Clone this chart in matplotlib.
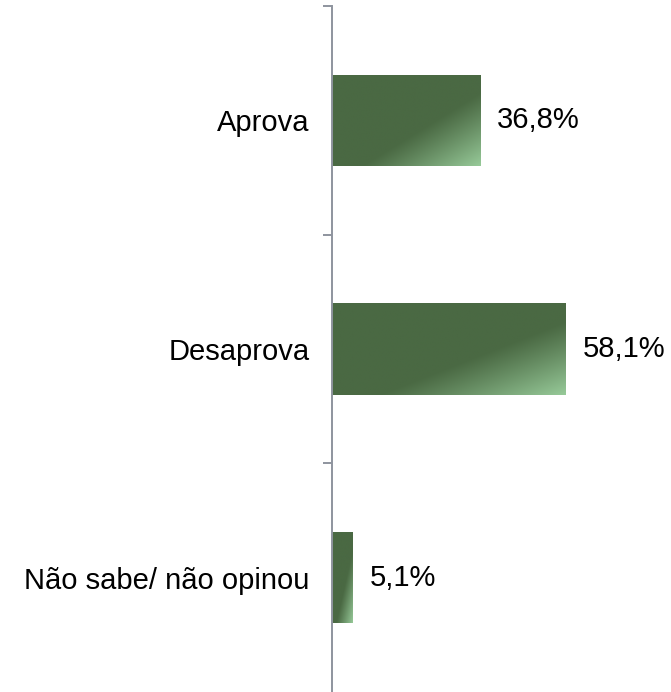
import numpy as np
import matplotlib
matplotlib.use('Agg')
import matplotlib.pyplot as plt
from matplotlib.colors import to_rgb

categories = ['Aprova', 'Desaprova', 'Não sabe/ não opinou']
values = [36.8, 58.1, 5.1]
value_labels = ['36,8%', '58,1%', '5,1%']

plt.rcParams['font.family'] = ['Liberation Sans', 'DejaVu Sans']

fig = plt.figure(figsize=(6.71, 6.92), dpi=100)
ax = fig.add_axes([332 / 671, 0.0, 322 / 671, 686 / 692])

ypos = np.arange(len(categories))
bar_h = 0.40
bars = ax.barh(ypos, values, height=bar_h, color='none', edgecolor='none')

# diagonal gradient: dark green with a lighter bottom-right corner
dark = np.array(to_rgb('#4a6943'))
light = np.array(to_rgb('#97ca99'))
n = 200
u, v = np.meshgrid(np.linspace(0, 1, n), np.linspace(0, 1, n))
t = (u + v) / 2
f = np.clip((t - 0.6) / 0.4, 0, 1) ** 1.1
grad = dark * (1 - f)[..., None] + light * f[..., None]

for bar, y, val, lab in zip(bars, ypos, values, value_labels):
    im = ax.imshow(grad, extent=(0, val, y + bar_h / 2, y - bar_h / 2),
                   origin='upper', aspect='auto', zorder=2, interpolation='bilinear')
    im.set_clip_path(bar)
    ax.text(val + 4.2, y, lab, va='center', ha='left', fontsize=21, color='#000000')

ax.set_xlim(0, 80)
ax.set_ylim(len(categories) - 0.5, -0.5)

for s in ['top', 'right', 'bottom']:
    ax.spines[s].set_visible(False)
ax.spines['left'].set_color('#8e949e')
ax.spines['left'].set_linewidth(1.4)

ax.set_xticks([])
ax.set_yticks(np.arange(-0.5, len(categories) - 1), labels=[])
ax.tick_params(axis='y', which='major', length=6.5, width=1.4, color='#8e949e')
ax.set_yticks(ypos, labels=categories, minor=True)
ax.tick_params(axis='y', which='minor', length=0, pad=16, labelsize=21)

plt.savefig('out.png', dpi=100)
